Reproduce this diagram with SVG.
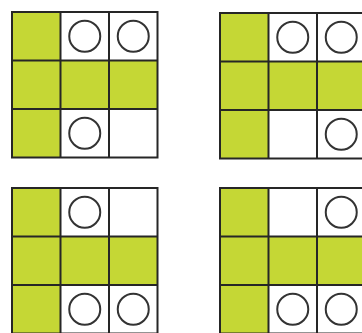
<svg xmlns="http://www.w3.org/2000/svg" xmlns:xlink="http://www.w3.org/1999/xlink" width="362" height="333" viewBox="0 0 362 333">
<style>
.g{fill:#c5d735}
.ln{fill:none;stroke:#262626;stroke-width:2}
.c{fill:#fff;stroke:#333;stroke-width:2}
</style>
<defs>
<g id="base">
<rect x="0" y="0" width="145.5" height="145.5" fill="#fff"/>
<rect class="g" x="0" y="0" width="48.5" height="145.5"/>
<rect class="g" x="0" y="48.5" width="145.5" height="48.5"/>
<rect class="ln" x="0" y="0" width="145.5" height="145.5"/>
<path class="ln" d="M48.5 0V145.5M97 0V145.5M0 48.5H145.5M0 97H145.5"/>
</g>
</defs>
<rect width="362" height="333" fill="#fff"/>
<g id="grid1" transform="translate(12,12)">
<use xlink:href="#base"/>
<circle class="c" cx="72.75" cy="24.25" r="15.5"/>
<circle class="c" cx="121.25" cy="24.25" r="15.5"/>
<circle class="c" cx="72.75" cy="121.25" r="15.5"/>
</g>
<g id="grid2" transform="translate(220,13)">
<use xlink:href="#base"/>
<circle class="c" cx="72.75" cy="24.25" r="15.5"/>
<circle class="c" cx="121.25" cy="24.25" r="15.5"/>
<circle class="c" cx="121.25" cy="121.25" r="15.5"/>
</g>
<g id="grid3" transform="translate(12,188)">
<use xlink:href="#base"/>
<circle class="c" cx="72.75" cy="24.25" r="15.5"/>
<circle class="c" cx="72.75" cy="121.25" r="15.5"/>
<circle class="c" cx="121.25" cy="121.25" r="15.5"/>
</g>
<g id="grid4" transform="translate(220,188)">
<use xlink:href="#base"/>
<circle class="c" cx="121.25" cy="24.25" r="15.5"/>
<circle class="c" cx="72.75" cy="121.25" r="15.5"/>
<circle class="c" cx="121.25" cy="121.25" r="15.5"/>
</g>
<g id="connectors"/>
</svg>
